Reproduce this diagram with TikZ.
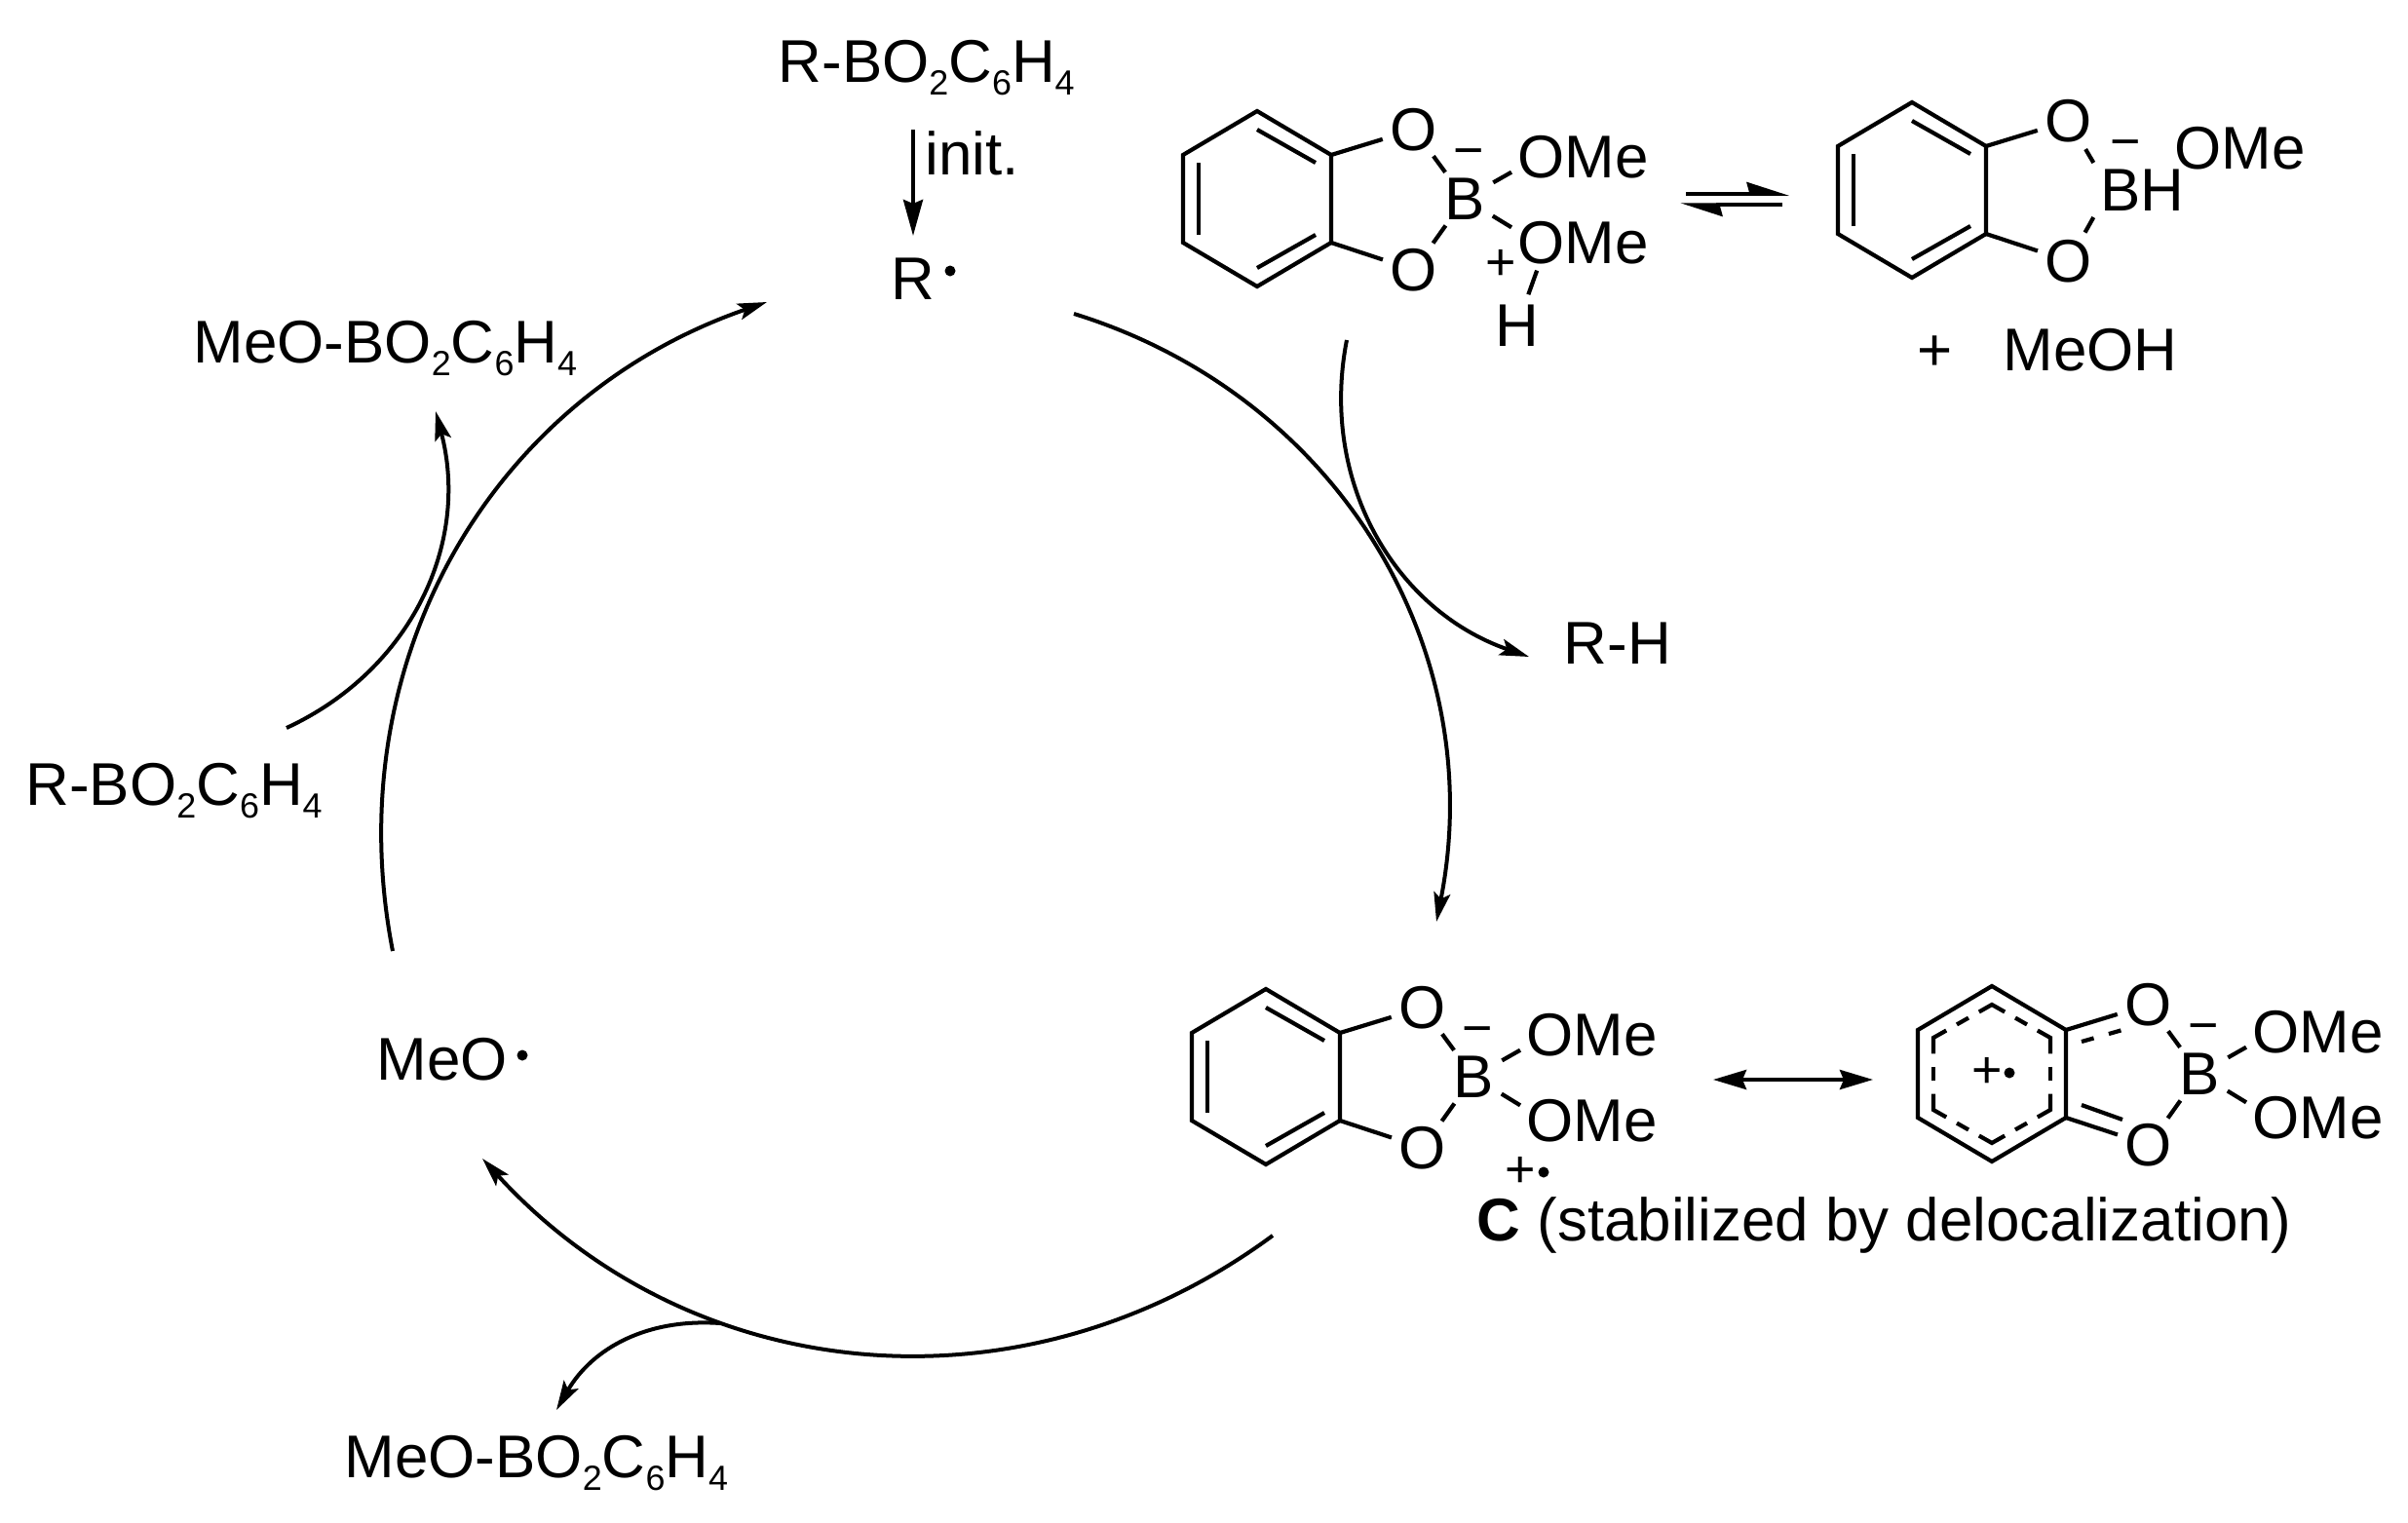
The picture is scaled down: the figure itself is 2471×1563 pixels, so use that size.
\documentclass[tikz,border=0pt]{standalone}
\usepackage{fontspec}
\setmainfont{Liberation Sans}
\usetikzlibrary{calc}
\usetikzlibrary{arrows.meta}

\newcommand{\sbs}[1]{\raisebox{-0.13cm}{\fontsize{10.2}{12}\selectfont #1}}
\newcommand{\bochain}{BO\sbs{2}C\sbs{6}H\sbs{4}}

\newcommand{\catring}[3]{
    \coordinate (#1a) at (#2,#3-90);
    \coordinate (#1b) at (#2+76,#3-45);
    \coordinate (#1c) at (#2+76,#3+45);
    \coordinate (#1d) at (#2,#3+90);
    \coordinate (#1e) at (#2-76,#3+45);
    \coordinate (#1f) at (#2-76,#3-45);
    \coordinate (#1ia) at (#2,#3-71);
    \coordinate (#1ib) at (#2+60,#3-37);
    \coordinate (#1ic) at (#2+60,#3+37);
    \coordinate (#1id) at (#2,#3+71);
    \coordinate (#1ie) at (#2-60,#3+37);
    \coordinate (#1if) at (#2-60,#3-37);
    \node[atom] (#1ot) at (#2+161,#3-71) {O};
    \node[atom] (#1ob) at (#2+161,#3+73) {O};
    \draw[bond] (#1a) -- (#1b) -- (#1c) -- (#1d) -- (#1e) -- (#1f) -- cycle;
    \draw[bond] (#1b) -- (#1ot);
    \draw[bond] (#1c) -- (#1ob);
}
\newcommand{\ringdbl}[1]{
    \draw[bond] (#1ia) -- (#1ib);
    \draw[bond] (#1ic) -- (#1id);
    \draw[bond] (#1ie) -- (#1if);
}
\newcommand{\borate}[3]{
    \node[atom] (#1bor) at (#2+213,#3) {B};
    \node[chg] (#1neg) at (#2+217,#3-41) {−};
    \node[group] (#1omt) at (#2+261,#3-43) {OMe};
    \node[group] (#1omb) at (#2+261,#3+45) {OMe};
    \draw[bond] (#1ot) -- (#1bor);
    \draw[bond] (#1ob) -- (#1bor);
    \draw[bond] (#1bor) -- (#1omt.192);
    \draw[bond] (#1bor) -- (#1omb.168);
}

\begin{document}
\begin{tikzpicture}[x=0.01cm, y=-0.01cm,
    every node/.style={font=\fontsize{17.6}{20}\selectfont},
    bond/.style={line width=0.042cm, line join=miter},
    atom/.style={circle, inner sep=0pt, minimum size=0.66cm},
    group/.style={rectangle, anchor=west, inner sep=0.06cm},
    txt/.style={anchor=base west, inner sep=0pt},
    chg/.style={inner sep=0pt, font=\fontsize{15.3}{18}\selectfont},
    rad/.style={circle, fill=black, inner sep=0pt, minimum size=0.11cm},
    curve/.style={line width=0.04cm, -{Stealth[length=0.3cm, width=0.17cm, inset=0.06cm]}},
    straight/.style={line width=0.04cm, -{Stealth[length=0.37cm, width=0.2cm, inset=0.04cm]}},
    both/.style={line width=0.04cm, {Stealth[length=0.34cm, width=0.2cm, inset=0.04cm]}-{Stealth[length=0.34cm, width=0.2cm, inset=0.04cm]}},
    eqm/.style={line width=0.035cm, -{Stealth[harpoon, length=0.38cm, width=0.24cm, inset=0.03cm]}}]
    \useasboundingbox (0,0) rectangle (2471,1563);

    % starting complex and its equilibrium partner
    \catring{m1}{1290}{204}
    \ringdbl{m1}
    \borate{m1}{1290}{204}
    \node[chg] (m1pos) at (1540,272) {+};
    \node[atom] (m1h) at (1557,334) {H};
    \draw[bond] (m1omb.211) -- (m1h);

    \catring{m2}{1962}{195}
    \ringdbl{m2}
    \node[group, anchor=center] (m2bh) at (2198,195) {BH};
    \node[chg] (m2neg) at (2181,154) {−};
    \node[group, inner sep=0pt] (m2om) at (2231,152) {OMe};
    \draw[bond] (m2ot) -- (m2bh.north west);
    \draw[bond] (m2ob) -- (m2bh.south west);
    \node[txt] (m2plus) at (1967,380) {+};
    \node[txt] (m2meoh) at (2055,380) {MeOH};

    \coordinate (eqal) at (1730,199);
    \coordinate (eqar) at (1836,199);
    \coordinate (eqbr) at (1829,210);
    \coordinate (eqbl) at (1724,210);
    \draw[eqm] (eqal) -- (eqar);
    \draw[eqm] (eqbr) -- (eqbl);

    % radical cation C and its resonance form
    \catring{m3}{1299}{1105}
    \ringdbl{m3}
    \borate{m3}{1299}{1105}
    \node[chg] (m3pos) at (1560,1203) {+};
    \node[rad] (m3dot) at (1584,1203) {};
    \node[txt] (m3note) at (1515,1273) {\textbf{C} (stabilized by delocalization)};

    \catring{m4}{2044}{1102}
    \borate{m4}{2044}{1102}
    \foreach \p/\q/\r in {if/ia/ib, ia/ib/ic, ib/ic/id, ic/id/ie, id/ie/if, ie/if/ia}
    {
        \draw[bond] ($(m4\q)!0.22!(m4\p)$) -- (m4\q) -- ($(m4\q)!0.22!(m4\r)$);
        \draw[bond] ($(m4\q)!0.4!(m4\r)$) -- ($(m4\q)!0.6!(m4\r)$);
    }
    \node[chg] (m4pos) at (2039,1101) {+};
    \node[rad] (m4dot) at (2062,1101) {};
    \coordinate (m4da) at (2136,1069);
    \coordinate (m4db) at (2178,1057);
    \coordinate (m4dc) at (2136,1134);
    \coordinate (m4dd) at (2178,1149);
    \draw[bond, dash pattern=on 0.13cm off 0.16cm] (m4da) -- (m4db);
    \draw[bond] (m4dc) -- (m4dd);

    \coordinate (resl) at (1758,1108);
    \coordinate (resr) at (1922,1108);
    \draw[both] (resl) -- (resr);

    % labels round the cycle
    \node[txt] (rbtop) at (798,84) {R-\bochain};
    \node[txt] (init) at (949,179) {init.};
    \node[txt] (rrad) at (914,307) {R};
    \node[rad] (rdot) at (975,278) {};
    \node[txt] (meotop) at (198,372) {MeO-\bochain};
    \node[txt] (rbleft) at (26,826) {R-\bochain};
    \node[txt] (rh) at (1604,681) {R-H};
    \node[txt] (meorad) at (386,1108) {MeO};
    \node[rad] (meodot) at (536,1083) {};
    \node[txt] (meobot) at (353,1516) {MeO-\bochain};

    \coordinate (inittop) at (937,133);
    \coordinate (inittip) at (937,242);
    \draw[straight] (inittop) -- (inittip);

    % cycle arcs
    \coordinate (rstart) at (1102,322);
    \coordinate (ctip) at (1474,946);
    \coordinate (cstart) at (1306,1268);
    \coordinate (mtip) at (495,1189);
    \coordinate (mstart) at (403,976);
    \coordinate (rtip) at (787,310);
    \draw[curve] (rstart) to[bend left=42] (ctip);
    \draw[curve] (cstart) to[bend left=42] (mtip);
    \draw[curve] (mstart) to[bend left=41] (rtip);

    % side arrows
    \coordinate (hstart) at (1382,349);
    \coordinate (htip) at (1569,674);
    \coordinate (lstart) at (294,747);
    \coordinate (ltip) at (447,422);
    \coordinate (bstart) at (739,1358);
    \coordinate (btip) at (571,1447);
    \draw[curve] (hstart) to[bend right=41] (htip);
    \draw[curve] (lstart) to[bend right=40] (ltip);
    \draw[curve] (bstart) to[bend right=32] (btip);
\end{tikzpicture}
\end{document}
